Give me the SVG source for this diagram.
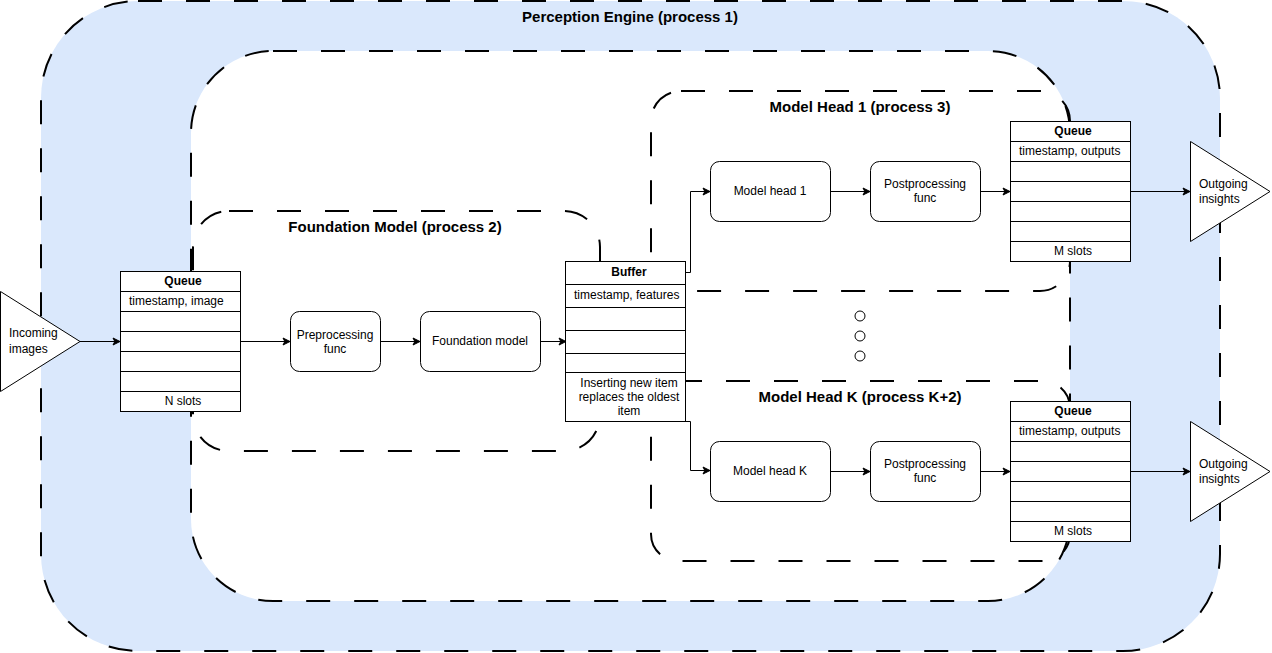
<svg xmlns="http://www.w3.org/2000/svg" width="1272" height="653" viewBox="0 0 1272 653">
<defs>
<marker id="arr" markerWidth="10" markerHeight="10" refX="8" refY="5" orient="auto" markerUnits="userSpaceOnUse">
<path d="M1,1.5 L8,5 L1,8.5 L2.8,5 Z" fill="#000" stroke="#000" stroke-width="1"/>
</marker>
<style>
text{font-family:"Liberation Sans",Arial,sans-serif;font-size:12px;fill:#000}
.t{font-weight:bold;font-size:15px;text-anchor:middle}
.b{font-weight:bold;text-anchor:middle}
.c{text-anchor:middle}
.dash{fill:none;stroke:#000;stroke-width:2;stroke-dasharray:24 24}
.box{fill:#fff;stroke:#000;stroke-width:1}
.ln{stroke:#000;stroke-width:1;fill:none}
.con{stroke:#000;stroke-width:1;fill:none;marker-end:url(#arr)}
</style>
</defs>
<g id="perception-engine">
<rect x="41" y="1" width="1179" height="650" rx="97" ry="97" fill="#dae8fc" stroke="#000" stroke-width="2" stroke-dasharray="24 24"/>
<rect x="191" y="51" width="879" height="550" rx="82" ry="82" fill="#fff" stroke="#000" stroke-width="2" stroke-dasharray="24 24"/>
<text class="t" x="630" y="22">Perception Engine (process 1)</text>
</g>
<g id="foundation-container">
<rect class="dash" x="193" y="211" width="407" height="240" rx="36" ry="36"/>
<text class="t" x="395" y="232">Foundation Model (process 2)</text>
</g>
<g id="head1-container">
<rect class="dash" x="651" y="91" width="419" height="200" rx="30" ry="30"/>
<text class="t" x="860" y="112">Model Head 1 (process 3)</text>
</g>
<g id="headK-container">
<rect class="dash" x="651" y="381" width="419" height="180" rx="27" ry="27"/>
<text class="t" x="860" y="402">Model Head K (process K+2)</text>
</g>
<g id="connectors">
<path class="con" d="M80,341.5 L120,341.5"/>
<path class="con" d="M240,341.5 L290,341.5"/>
<path class="con" d="M380,341.5 L420,341.5"/>
<path class="con" d="M540,341.5 L566,341.5"/>
<path class="con" d="M686,272.5 L690.5,272.5 L690.5,191.5 L710,191.5"/>
<path class="con" d="M686,421.5 L690.5,421.5 L690.5,470.5 L710,470.5"/>
<path class="con" d="M830,191.5 L870,191.5"/>
<path class="con" d="M980,191.5 L1010,191.5"/>
<path class="con" d="M1130,191.5 L1190,191.5"/>
<path class="con" d="M830,471.5 L870,471.5"/>
<path class="con" d="M980,471.5 L1010,471.5"/>
<path class="con" d="M1130,471.5 L1190,471.5"/>
</g>
<g id="incoming">
<path class="box" d="M0.5,291.5 L80,341.5 L0.5,391.5 Z"/>
<text x="9" y="337">Incoming</text>
<text x="9" y="353">images</text>
</g>
<g id="queue-in">
<rect class="box" x="120.5" y="271.5" width="120" height="140"/>
<path class="ln" d="M120.5,291.5H240.5M120.5,311.5H240.5M120.5,331.5H240.5M120.5,351.5H240.5M120.5,371.5H240.5M120.5,391.5H240.5"/>
<text class="b" x="183" y="285">Queue</text>
<text x="129" y="305">timestamp, image</text>
<text class="c" x="183" y="405">N slots</text>
</g>
<g id="preprocessing">
<rect class="box" x="290.5" y="311.5" width="90" height="60" rx="9" ry="9"/>
<text class="c" x="335" y="339">Preprocessing</text>
<text class="c" x="335" y="353">func</text>
</g>
<g id="foundation-model">
<rect class="box" x="420.5" y="311.5" width="120" height="60" rx="9" ry="9"/>
<text class="c" x="480" y="345">Foundation model</text>
</g>
<g id="buffer">
<rect class="box" x="565.5" y="261.5" width="120" height="160"/>
<path class="ln" d="M565.5,284.5H685.5M565.5,307.5H685.5M565.5,330.5H685.5M565.5,353.5H685.5M565.5,372.5H685.5"/>
<text class="b" x="629" y="276">Buffer</text>
<text x="574" y="299">timestamp, features</text>
<text class="c" x="629" y="387">Inserting new item</text>
<text class="c" x="629" y="401">replaces the oldest</text>
<text class="c" x="629" y="415">item</text>
</g>
<g id="model-head-1">
<rect class="box" x="710.5" y="161.5" width="120" height="60" rx="9" ry="9"/>
<text class="c" x="770" y="195">Model head 1</text>
</g>
<g id="postprocessing-1">
<rect class="box" x="870.5" y="161.5" width="110" height="60" rx="9" ry="9"/>
<text class="c" x="925" y="188">Postprocessing</text>
<text class="c" x="925" y="202">func</text>
</g>
<g id="queue-out-1">
<rect class="box" x="1010.5" y="121.5" width="120" height="140"/>
<path class="ln" d="M1010.5,141.5H1130.5M1010.5,161.5H1130.5M1010.5,181.5H1130.5M1010.5,201.5H1130.5M1010.5,221.5H1130.5M1010.5,241.5H1130.5"/>
<text class="b" x="1073" y="135">Queue</text>
<text x="1019" y="155">timestamp, outputs</text>
<text class="c" x="1073" y="255">M slots</text>
</g>
<g id="outgoing-1">
<path class="box" d="M1190.5,141.5 L1270,191.5 L1190.5,241.5 Z"/>
<text x="1199" y="188">Outgoing</text>
<text x="1199" y="203">insights</text>
</g>
<g id="dots">
<circle class="box" cx="860" cy="316" r="5"/>
<circle class="box" cx="860" cy="336" r="5"/>
<circle class="box" cx="860" cy="356" r="5"/>
</g>
<g id="model-head-k">
<rect class="box" x="710.5" y="441.5" width="120" height="60" rx="9" ry="9"/>
<text class="c" x="770" y="475">Model head K</text>
</g>
<g id="postprocessing-k">
<rect class="box" x="870.5" y="441.5" width="110" height="60" rx="9" ry="9"/>
<text class="c" x="925" y="468">Postprocessing</text>
<text class="c" x="925" y="482">func</text>
</g>
<g id="queue-out-k">
<rect class="box" x="1010.5" y="401.5" width="120" height="140"/>
<path class="ln" d="M1010.5,421.5H1130.5M1010.5,441.5H1130.5M1010.5,461.5H1130.5M1010.5,481.5H1130.5M1010.5,501.5H1130.5M1010.5,521.5H1130.5"/>
<text class="b" x="1073" y="415">Queue</text>
<text x="1019" y="435">timestamp, outputs</text>
<text class="c" x="1073" y="535">M slots</text>
</g>
<g id="outgoing-k">
<path class="box" d="M1190.5,421.5 L1270,471.5 L1190.5,521.5 Z"/>
<text x="1199" y="468">Outgoing</text>
<text x="1199" y="483">insights</text>
</g>
</svg>
